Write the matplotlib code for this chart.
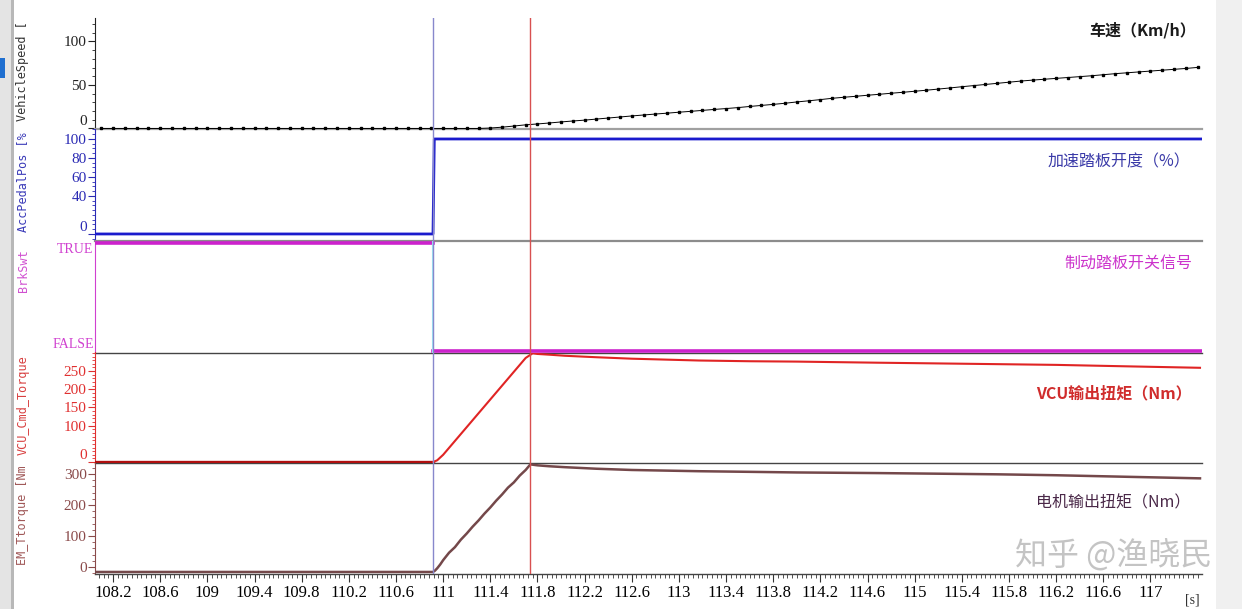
import numpy as np
import matplotlib
matplotlib.use('Agg')
import matplotlib.pyplot as plt
from matplotlib.patches import Rectangle
from matplotlib.ticker import MultipleLocator

plt.rcParams['font.family'] = ['Liberation Serif', 'DejaVu Serif']
CJK = ['Noto Sans CJK SC', 'DejaVu Sans']

# ---- data ----
t_cursor1 = 110.914
t_cursor2 = 111.737

# vehicle speed, sampled every 0.1 s from 108.1 to 117.4
speed_t = np.round(np.arange(108.1, 117.45, 0.1), 1)
speed_v = [0.0] * 33 + [
    0.5, 1.5, 2.8, 4.2, 5.2, 6.3, 7.5, 8.6, 9.6, 10.8,
    12.0, 13.2, 14.4, 15.5, 16.6, 17.6, 18.7, 19.7, 20.8, 21.9,
    22.9, 24.0, 25.3, 26.5, 27.7, 29.0, 30.5, 31.8, 33.2, 34.7,
    35.9, 37.0, 38.2, 39.3, 40.5, 41.6, 42.8, 44.0, 45.3, 46.6,
    48.0, 49.3, 50.6, 51.9, 53.2, 54.5, 55.6, 56.6, 57.6, 58.6,
    59.6, 60.6, 61.8, 63.0, 64.0, 65.0, 66.0, 67.0, 68.0, 69.0,
    70.2]

pedal_t = [108.047, 110.914, 110.922, 110.925, 117.437]
pedal_v = [0, 0, 72, 100, 100]

# brake switch: TRUE before the first cursor, FALSE after
brk_on_t = [108.047, 110.912]
brk_off_t = [110.916, 117.437]

vcu_t = [108.047, 110.914, 110.95, 111.0, 111.1, 111.2, 111.3, 111.4, 111.5,
         111.6, 111.7, 111.76, 111.8, 111.9, 112.034, 112.3, 112.6, 113.17,
         113.6, 114.0, 114.68, 115.2, 115.7, 116.2, 116.8, 117.42]
vcu_v = [0, 0, 5, 20, 58, 96, 134, 172, 210,
         248, 286, 299, 297, 295, 292, 288, 284, 279,
         277, 276, 273, 271, 269, 267, 263, 259]

em_t = [108.047, 110.914, 110.93, 110.95, 110.975, 111.0, 111.05, 111.1, 111.15,
        111.2, 111.25, 111.3, 111.35, 111.4, 111.45, 111.5, 111.55, 111.6,
        111.65, 111.7, 111.74, 111.8, 111.9, 112.034, 112.3, 112.6, 113.17,
        113.6, 114.0, 114.68, 115.2, 115.7, 116.2, 116.8, 117.42]
em_v = [-16, -16, -12, -4, 8, 22, 46, 64, 88,
        108, 130, 150, 172, 192, 214, 234, 256, 273,
        295, 313, 331, 328, 325, 322, 317, 313, 309,
        307, 305, 303, 301, 299, 296, 291, 286]

x_major = np.round(np.arange(108.2, 117.1, 0.4), 1)
x_labels = ['%g' % v for v in x_major]

# ---- figure layout (pixel based) ----
W, H = 1242, 609
fig = plt.figure(figsize=(W / 100, H / 100), dpi=100)
fig.patch.set_facecolor('white')

def box(top, bot, left=95, right=1202):
    return [left / W, 1 - bot / H, (right - left) / W, (bot - top) / H]

# window chrome around the plot
fig.patches.append(Rectangle((0, 0), 11 / W, 1, transform=fig.transFigure,
                             facecolor='#e4e4e4', edgecolor='none'))
fig.patches.append(Rectangle((11 / W, 0), 3 / W, 1, transform=fig.transFigure,
                             facecolor='#b8b8b8', edgecolor='none'))
fig.patches.append(Rectangle((0, 1 - 78 / H), 5 / W, 20 / H, transform=fig.transFigure,
                             facecolor='#1f6fd0', edgecolor='none'))
fig.patches.append(Rectangle((1216 / W, 0), 26 / W, 1, transform=fig.transFigure,
                             facecolor='#f0f0f0', edgecolor='none'))

panels = [(18, 129), (129, 241), (241, 352.5), (352.5, 463), (463, 574)]
axes = []
for i, (top, bot) in enumerate(panels):
    ax = fig.add_axes(box(top, bot), sharex=axes[0] if axes else None)
    ax.set_facecolor('none')
    axes.append(ax)
ax1, ax2, ax3, ax4, ax5 = axes

colors = ['#222222', '#2a2ab4', '#d040d0', '#e03030', '#8a4a4a']
bottoms = ['#a0a0a0', '#8c8c8c', '#444444', '#444444', '#444444']
for ax, c, bc in zip(axes, colors, bottoms):
    ax.spines['top'].set_visible(False)
    ax.spines['right'].set_visible(False)
    ax.spines['left'].set_color(c)
    ax.spines['bottom'].set_color(bc)
    ax.spines['bottom'].set_linewidth(1.6 if bc in ('#a0a0a0', '#8c8c8c') else 1.0)
    ax.tick_params(axis='y', which='major', direction='out', length=5, color=c,
                   labelcolor=c, labelsize=11, pad=1)
    ax.tick_params(axis='y', which='minor', direction='out', length=2.5, color=c)
    if ax is not ax5:
        ax.tick_params(axis='x', which='both', bottom=False, labelbottom=False)

ax1.set_xlim(108.047, 117.437)

# panel 1: vehicle speed
ax1.plot(speed_t, speed_v, color='black', lw=0.7, marker='s', ms=1.6, clip_on=False, zorder=3)
ax1.set_ylim(-0.6, 127)
ax1.set_yticks([0, 50, 100], ['0', '50', '100'])
ax1.yaxis.set_minor_locator(MultipleLocator(10))
ax1.yaxis.get_major_ticks()[0].label1.set_va('bottom')

# panel 2: accelerator pedal
ax2.plot(pedal_t, pedal_v, color='#1a1acd', lw=2, zorder=3)
ax2.set_ylim(-7.4, 110.5)
ax2.set_yticks([0, 40, 60, 80, 100], ['0', '40', '60', '80', '100'])
ax2.yaxis.set_minor_locator(MultipleLocator(5))
ax2.yaxis.get_major_ticks()[0].label1.set_va('bottom')

# panel 3: brake switch
ax3.plot(brk_on_t, [1, 1], color='#cc22cc', lw=2.6, zorder=3)
ax3.plot(brk_off_t, [0, 0], color='#cc22cc', lw=2.6, zorder=3)
ax3.axvline(t_cursor1, color='#9ee8f4', lw=1.5, zorder=4)
ax3.set_ylim(-0.014, 1.014)
ax3.set_yticks([0, 1], ['FALSE', 'TRUE'])
ax3.tick_params(axis='y', labelsize=10, length=0)
ax3.yaxis.get_major_ticks()[0].label1.set_va('bottom')
ax3.yaxis.get_major_ticks()[1].label1.set_va('top')

# panel 4: VCU torque command
ax4.plot(vcu_t[:2], vcu_v[:2], color='#b01010', lw=2.4, zorder=3)
ax4.plot(vcu_t[1:], vcu_v[1:], color='#e02424', lw=1.5, zorder=3)
ax4.set_ylim(-2.5, 301)
ax4.set_yticks([0, 100, 150, 200, 250], ['0', '100', '150', '200', '250'])
ax4.yaxis.set_minor_locator(MultipleLocator(10))
ax4.yaxis.get_major_ticks()[0].label1.set_va('bottom')

# panel 5: motor torque
ax5.plot(em_t, em_v, color='#74484a', lw=1.8, zorder=3)
ax5.set_ylim(-22.6, 335.5)
ax5.set_yticks([0, 100, 200, 300], ['0', '100', '200', '300'])
ax5.yaxis.set_minor_locator(MultipleLocator(20))
ax5.set_xticks(x_major, x_labels)
ax5.xaxis.set_minor_locator(MultipleLocator(0.04))
ax5.tick_params(axis='x', which='major', direction='out', length=6, color='#333333',
                labelsize=12, pad=2)
ax5.tick_params(axis='x', which='minor', direction='out', length=3, color='#333333')

# cursors
for ax in axes:
    ax.axvline(t_cursor1, color='#8888cc', lw=1.0, zorder=5)
    ax.axvline(t_cursor2, color='#d85050', lw=1.0, zorder=5)

# channel names on the left
names = ['VehicleSpeed [', 'AccPedalPos [%', 'BrkSwt', 'VCU_Cmd_Torque', 'EM_Ttorque [Nm']
name_colors = ['#333333', '#3a3ab8', '#d050d0', '#d84040', '#a05858']
name_tops = [21, 132, 249, 355, 465]
for n, c, y in zip(names, name_colors, name_tops):
    fig.text(23 / W, 1 - y / H, n, rotation=90, ha='center', va='top', color=c,
             fontsize=8.5, family='DejaVu Sans Mono')

# signal descriptions
notes = [('车速（Km/h）', '#1a1a1a', 1196, 30, 'bold'),
         ('加速踏板开度（%）', '#3a3aa8', 1190, 162, 'normal'),
         ('制动踏板开关信号', '#cc33cc', 1192, 263, 'normal'),
         ('VCU输出扭矩（Nm）', '#d02c2c', 1192, 393, 'bold'),
         ('电机输出扭矩（Nm）', '#4a2848', 1190, 503, 'normal')]
for txt, c, x, y, w in notes:
    fig.text(x / W, 1 - y / H, txt, ha='right', va='center', color=c,
             fontsize=11.5, family=CJK, fontweight=w)

fig.text(1192 / W, 1 - 607 / H, '[s]', ha='center', va='bottom', fontsize=10, color='#333333')
fig.text(1212 / W, 1 - 556 / H, '知乎 @渔晓民', ha='right', va='center', fontsize=23,
         color='#c4c4c4', family=CJK, zorder=10)

fig.savefig('out.png', dpi=100)
